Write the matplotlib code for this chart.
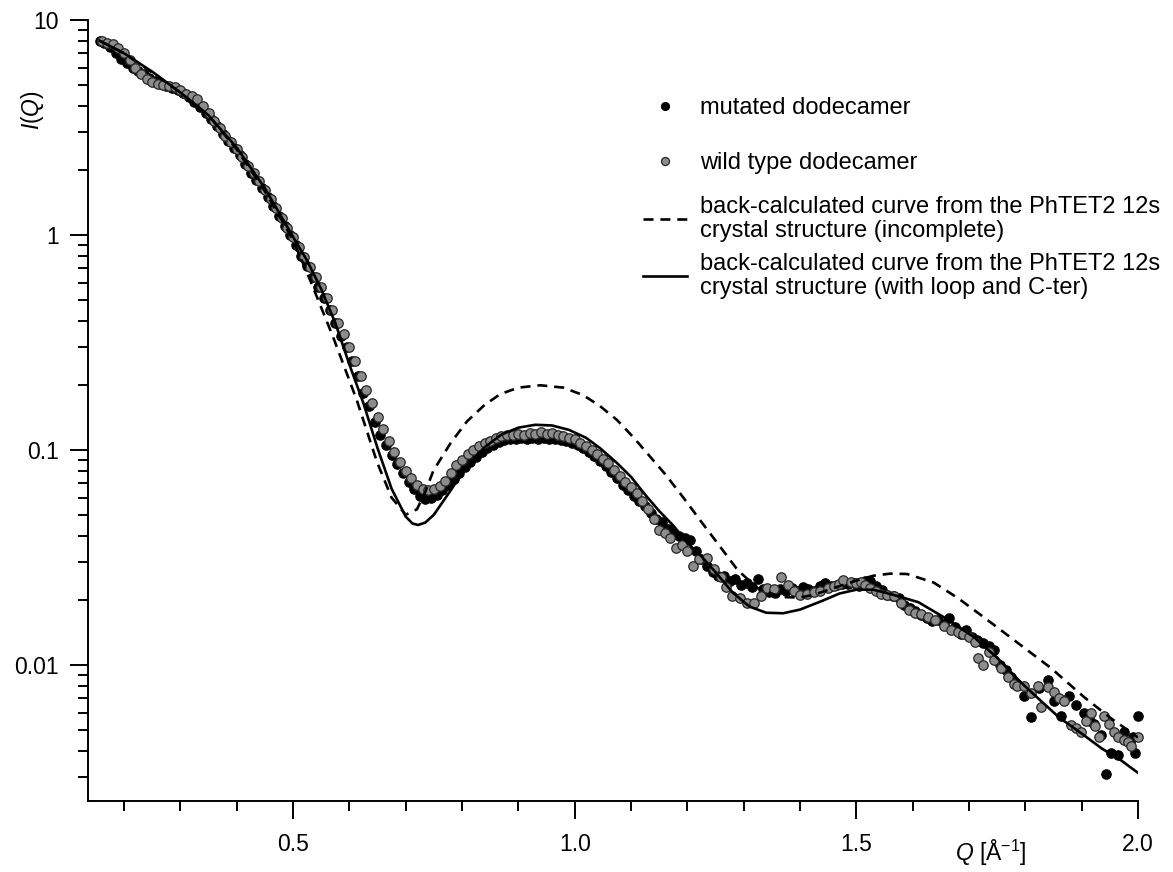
import matplotlib
matplotlib.use("Agg")
import matplotlib.pyplot as plt
from matplotlib.ticker import FixedLocator, NullFormatter, MultipleLocator, FixedFormatter

plt.rcParams['font.family'] = ['Liberation Sans', 'DejaVu Sans']
plt.rcParams['mathtext.fontset'] = 'custom'
plt.rcParams['mathtext.rm'] = 'Liberation Sans'
plt.rcParams['mathtext.it'] = 'Liberation Sans:italic'

# ---------------- data ----------------
mut_q = [0.157, 0.165, 0.175, 0.185, 0.195, 0.205, 0.215, 0.225, 0.235, 0.245, 0.255, 0.265, 0.275, 0.285,
         0.295, 0.305, 0.315, 0.325, 0.335, 0.345, 0.355, 0.365, 0.375, 0.385, 0.395, 0.405, 0.415, 0.425,
         0.435, 0.445, 0.455, 0.465, 0.475, 0.485, 0.495, 0.505, 0.515, 0.525, 0.535, 0.545, 0.555, 0.565,
         0.575, 0.585, 0.595, 0.605, 0.615, 0.625, 0.635, 0.645, 0.655, 0.665, 0.675, 0.685, 0.695, 0.705,
         0.715, 0.725, 0.735, 0.745, 0.755, 0.765, 0.775, 0.785, 0.795, 0.805, 0.815, 0.825, 0.835, 0.845,
         0.855, 0.865, 0.875, 0.885, 0.895, 0.905, 0.915, 0.925, 0.935, 0.945, 0.955, 0.965, 0.975, 0.985,
         0.995, 1.005, 1.015, 1.025, 1.035, 1.045, 1.055, 1.065, 1.075, 1.085, 1.095, 1.105, 1.115, 1.125,
         1.135, 1.145, 1.155, 1.165, 1.175, 1.185, 1.195, 1.205, 1.215, 1.225, 1.235, 1.245, 1.255, 1.265,
         1.275, 1.285, 1.295, 1.305, 1.315, 1.325, 1.335, 1.345, 1.355, 1.365, 1.375, 1.385, 1.395, 1.405,
         1.415, 1.425, 1.435, 1.445, 1.455, 1.465, 1.475, 1.485, 1.495, 1.505, 1.515, 1.525, 1.535, 1.545,
         1.555, 1.565, 1.575, 1.585, 1.595, 1.605, 1.615, 1.625, 1.635, 1.645, 1.655, 1.665, 1.675, 1.685,
         1.695, 1.705, 1.715, 1.725, 1.735, 1.745, 1.755, 1.765, 1.775, 1.785, 1.797, 1.81, 1.825, 1.84,
         1.85, 1.863, 1.877, 1.89, 1.904, 1.915, 1.922, 1.935, 1.943, 1.952, 1.964, 1.975, 1.985, 1.991,
         1.995, 2.0]
mut_i = [8.0, 7.8, 7.5, 7.0, 6.6, 6.3, 6.0, 5.8, 5.6, 5.4, 5.2, 5.05, 4.95, 4.85,
         4.75, 4.6, 4.4, 4.15, 3.95, 3.7, 3.45, 3.2, 2.95, 2.75, 2.55, 2.35, 2.15, 1.95,
         1.8, 1.65, 1.5, 1.36, 1.22, 1.10, 1.0, 0.90, 0.80, 0.72, 0.64, 0.57, 0.51, 0.45,
         0.39, 0.34, 0.30, 0.26, 0.22, 0.185, 0.16, 0.135, 0.118, 0.105, 0.095, 0.086, 0.078, 0.071,
         0.066, 0.061, 0.059, 0.060, 0.062, 0.065, 0.069, 0.073, 0.078, 0.083, 0.088, 0.093, 0.098, 0.102,
         0.106, 0.109, 0.111, 0.112, 0.113, 0.114, 0.113, 0.114, 0.113, 0.114, 0.112, 0.113, 0.111, 0.110,
         0.108, 0.105, 0.102, 0.098, 0.094, 0.089, 0.084, 0.079, 0.074, 0.069, 0.065, 0.061, 0.058, 0.055,
         0.051, 0.048, 0.046, 0.043, 0.041, 0.040, 0.039, 0.038, 0.034, 0.031, 0.029, 0.027, 0.026, 0.026,
         0.0245, 0.025, 0.0235, 0.024, 0.0231, 0.025, 0.0225, 0.0218, 0.0216, 0.0225, 0.022, 0.0228, 0.022, 0.0231,
         0.0226, 0.0222, 0.0233, 0.024, 0.0232, 0.0236, 0.0237, 0.0237, 0.024, 0.0232, 0.0246, 0.0245, 0.0232, 0.0223,
         0.0212, 0.0210, 0.0205, 0.019, 0.0185, 0.0178, 0.0171, 0.0165, 0.0160, 0.0162, 0.0155, 0.0166, 0.015, 0.0139,
         0.0145, 0.0135, 0.0130, 0.0126, 0.0122, 0.0118, 0.0100, 0.0095, 0.0088, 0.0082, 0.0072, 0.0057, 0.0078, 0.0085,
         0.0068, 0.0058, 0.0072, 0.0065, 0.0060, 0.0055, 0.0053, 0.0047, 0.0031, 0.0039, 0.0038, 0.0049, 0.0044, 0.0046,
         0.0039, 0.0058]

wt_q = [0.16, 0.17, 0.18, 0.19, 0.20, 0.21, 0.22, 0.23, 0.24, 0.25, 0.26, 0.27, 0.28, 0.29,
        0.30, 0.31, 0.32, 0.33, 0.34, 0.35, 0.36, 0.37, 0.38, 0.39, 0.40, 0.41, 0.42, 0.43,
        0.44, 0.45, 0.46, 0.47, 0.48, 0.49, 0.50, 0.51, 0.52, 0.53, 0.54, 0.55, 0.56, 0.57,
        0.58, 0.59, 0.60, 0.61, 0.62, 0.63, 0.64, 0.65, 0.66, 0.67, 0.68, 0.69, 0.70, 0.71,
        0.72, 0.73, 0.74, 0.75, 0.76, 0.77, 0.78, 0.79, 0.80, 0.81, 0.82, 0.83, 0.84, 0.85,
        0.86, 0.87, 0.88, 0.89, 0.90, 0.91, 0.92, 0.93, 0.94, 0.95, 0.96, 0.97, 0.98, 0.99,
        1.00, 1.01, 1.02, 1.03, 1.04, 1.05, 1.06, 1.07, 1.08, 1.09, 1.10, 1.11, 1.12, 1.13,
        1.14, 1.15, 1.16, 1.17, 1.18, 1.19, 1.20, 1.21, 1.22, 1.235, 1.247, 1.259, 1.268, 1.28,
        1.294, 1.306, 1.318, 1.33, 1.342, 1.354, 1.366, 1.378, 1.39, 1.40, 1.412, 1.424, 1.436, 1.449,
        1.46, 1.47, 1.477, 1.49, 1.50, 1.508, 1.515, 1.525, 1.535, 1.543, 1.555, 1.566, 1.58, 1.593,
        1.605, 1.615, 1.627, 1.64, 1.655, 1.668, 1.68, 1.69, 1.70, 1.71, 1.716, 1.724, 1.735, 1.745,
        1.756, 1.769, 1.78, 1.786, 1.797, 1.81, 1.822, 1.827, 1.84, 1.851, 1.86, 1.868, 1.881, 1.89,
        1.899, 1.908, 1.916, 1.924, 1.931, 1.94, 1.949, 1.958, 1.964, 1.975, 1.982, 1.987, 2.0]
wt_i = [8.0, 7.85, 7.7, 7.4, 7.0, 6.5, 6.0, 5.6, 5.3, 5.15, 5.05, 5.0, 4.95, 4.9,
        4.75, 4.55, 4.45, 4.3, 4.0, 3.7, 3.4, 3.15, 2.9, 2.7, 2.5, 2.3, 2.1, 1.95,
        1.78, 1.62, 1.47, 1.33, 1.2, 1.08, 0.98, 0.88, 0.79, 0.71, 0.64, 0.57, 0.51, 0.45,
        0.39, 0.345, 0.30, 0.26, 0.22, 0.19, 0.165, 0.142, 0.125, 0.11, 0.098, 0.088, 0.080, 0.074,
        0.069, 0.066, 0.065, 0.066, 0.068, 0.072, 0.078, 0.085, 0.090, 0.096, 0.100, 0.104, 0.108, 0.110,
        0.114, 0.116, 0.117, 0.118, 0.119, 0.118, 0.120, 0.119, 0.121, 0.119, 0.120, 0.117, 0.116, 0.114,
        0.112, 0.108, 0.104, 0.100, 0.096, 0.091, 0.087, 0.081, 0.076, 0.071, 0.067, 0.063, 0.058, 0.053,
        0.048, 0.0425, 0.041, 0.039, 0.035, 0.036, 0.034, 0.029, 0.031, 0.0315, 0.028, 0.0257, 0.0231, 0.021,
        0.0205, 0.0195, 0.0194, 0.021, 0.0228, 0.0225, 0.0257, 0.0235, 0.022, 0.0212, 0.0215, 0.0218, 0.022, 0.0228,
        0.0232, 0.0238, 0.0248, 0.0242, 0.024, 0.0243, 0.0235, 0.0228, 0.022, 0.0213, 0.0212, 0.021, 0.0195, 0.018,
        0.0175, 0.0172, 0.0168, 0.0162, 0.0152, 0.0146, 0.0142, 0.014, 0.0135, 0.0128, 0.0108, 0.0100, 0.0115, 0.0105,
        0.0097, 0.0088, 0.0082, 0.0080, 0.0080, 0.0074, 0.0080, 0.0064, 0.0079, 0.0075, 0.0070, 0.0068, 0.00526, 0.0051,
        0.0049, 0.0055, 0.0060, 0.0052, 0.0046, 0.0058, 0.0053, 0.0049, 0.0046, 0.0045, 0.0044, 0.0042, 0.0046]

inc_q = [0.157, 0.2, 0.25, 0.3, 0.35, 0.4, 0.45, 0.5, 0.53, 0.571, 0.613, 0.649, 0.675, 0.70, 0.72,
         0.735, 0.749, 0.78, 0.809, 0.84, 0.868, 0.90, 0.939, 0.98, 1.015, 1.045, 1.075, 1.105, 1.134,
         1.161, 1.193, 1.223, 1.253, 1.289, 1.324, 1.366, 1.40, 1.424, 1.46, 1.502, 1.53, 1.56, 1.59,
         1.637, 1.68, 1.726, 1.786, 1.845, 1.904, 1.95, 2.0]
inc_i = [8.0, 7.0, 5.7, 4.6, 3.6, 2.5, 1.6, 0.95, 0.62, 0.336, 0.171, 0.088, 0.060, 0.050, 0.053,
         0.064, 0.080, 0.108, 0.136, 0.162, 0.182, 0.195, 0.200, 0.195, 0.180, 0.160, 0.138, 0.114, 0.093,
         0.077, 0.060, 0.047, 0.037, 0.0277, 0.0228, 0.0207, 0.0206, 0.0212, 0.0228, 0.0248, 0.026, 0.0266, 0.0265,
         0.0242, 0.0205, 0.0167, 0.0127, 0.0097, 0.0071, 0.0057, 0.0046]

full_q = [0.157, 0.2, 0.25, 0.3, 0.35, 0.4, 0.45, 0.5, 0.525, 0.55, 0.575, 0.6, 0.625, 0.65, 0.675,
          0.7, 0.712, 0.722, 0.735, 0.75, 0.765, 0.78, 0.81, 0.84, 0.87, 0.90, 0.93, 0.96, 0.99,
          1.02, 1.045, 1.075, 1.1, 1.125, 1.15, 1.175, 1.2, 1.225, 1.25, 1.28, 1.31, 1.34, 1.37,
          1.4, 1.44, 1.47, 1.5, 1.53, 1.56, 1.61, 1.66, 1.71, 1.75, 1.79, 1.82, 1.86, 1.9,
          1.935, 1.97, 2.0]
full_i = [8.0, 7.0, 5.75, 4.6, 3.6, 2.55, 1.65, 0.98, 0.76, 0.56, 0.39, 0.25, 0.165, 0.102, 0.066,
          0.049, 0.0455, 0.0448, 0.046, 0.050, 0.057, 0.065, 0.085, 0.103, 0.118, 0.127, 0.131, 0.130, 0.124,
          0.114, 0.102, 0.087, 0.075, 0.062, 0.052, 0.0445, 0.037, 0.032, 0.027, 0.0218, 0.0187, 0.0175, 0.0174,
          0.0181, 0.0199, 0.0215, 0.0224, 0.0224, 0.0214, 0.0196, 0.0164, 0.0134, 0.0108, 0.0084, 0.0071, 0.0057, 0.0048,
          0.0041, 0.0036, 0.00315]

labels = ["mutated dodecamer",
          "wild type dodecamer",
          "back-calculated curve from the PhTET2 12s\ncrystal structure (incomplete)",
          "back-calculated curve from the PhTET2 12s\ncrystal structure (with loop and C-ter)"]

y_major = [0.01, 0.1, 1, 10]
y_major_labels = ["0.01", "0.1", "1", "10"]
x_major = [0.5, 1.0, 1.5, 2.0]
x_major_labels = ["0.5", "1.0", "1.5", "2.0"]

# ---------------- figure ----------------
W, H = 1173, 872
fig = plt.figure(figsize=(W / 100, H / 100), dpi=100)
ax = fig.add_axes([88 / W, 1 - 801 / H, 1050 / W, 781 / H])

h_mut, = ax.plot(mut_q, mut_i, linestyle='none', marker='o', markersize=6.8,
                 markerfacecolor='black', markeredgecolor='black', markeredgewidth=0.8,
                 clip_on=False, zorder=3)
h_wt, = ax.plot(wt_q, wt_i, linestyle='none', marker='o', markersize=6.8,
                markerfacecolor='#8c8c8c', markeredgecolor='#262626', markeredgewidth=0.9,
                clip_on=False, zorder=3)
h_inc, = ax.plot(inc_q, inc_i, color='black', linewidth=1.9, linestyle=(0, (3.8, 2.6)), zorder=4)
h_full, = ax.plot(full_q, full_i, color='black', linewidth=1.9, zorder=4)

ax.set_yscale('log')
ax.set_xlim(0.136, 2.0)
ax.set_ylim(0.00233, 10)

for s in ['top', 'right']:
    ax.spines[s].set_visible(False)
for s in ['left', 'bottom']:
    ax.spines[s].set_linewidth(1.4)

ax.yaxis.set_major_locator(FixedLocator(y_major))
ax.yaxis.set_major_formatter(FixedFormatter(y_major_labels))
ax.yaxis.set_minor_locator(matplotlib.ticker.LogLocator(base=10, subs=range(2, 10)))
ax.yaxis.set_minor_formatter(NullFormatter())
ax.xaxis.set_major_locator(FixedLocator(x_major))
ax.xaxis.set_major_formatter(FixedFormatter(x_major_labels))
ax.xaxis.set_minor_locator(MultipleLocator(0.1))

ax.tick_params(which='major', direction='out', length=13, width=1.4, labelsize=16.5, pad=8)
ax.tick_params(which='minor', direction='out', length=7, width=1.4)
ax.tick_params(axis='x', which='major', pad=10)

ax.set_xlabel(r'$Q$ [Å$^{-1}$]', fontsize=16.5)
ax.xaxis.set_label_coords(0.860, -0.047)
fig.text(32 / W, 1 - 110 / H, r'$I$($Q$)', rotation=90, fontsize=16.5, ha='center', va='center')

# legend: four single-entry legends stacked
handles = [h_mut, h_wt, h_inc, h_full]
centers = [108, 163, 219, 276]
legs = []
for hnd, lab, cy in zip(handles, labels, centers):
    leg = ax.legend([hnd], [lab], loc='center left',
                    bbox_to_anchor=(643 / W, 1 - cy / H), bbox_transform=fig.transFigure,
                    frameon=False, borderpad=0, borderaxespad=0, handlelength=1.85,
                    handletextpad=0.55, fontsize=17, markerscale=0.85)
    for t in leg.get_texts():
        t.set_linespacing(1.12)
    legs.append(leg)
for leg in legs[:-1]:
    ax.add_artist(leg)

fig.savefig("out.png", dpi=100)
